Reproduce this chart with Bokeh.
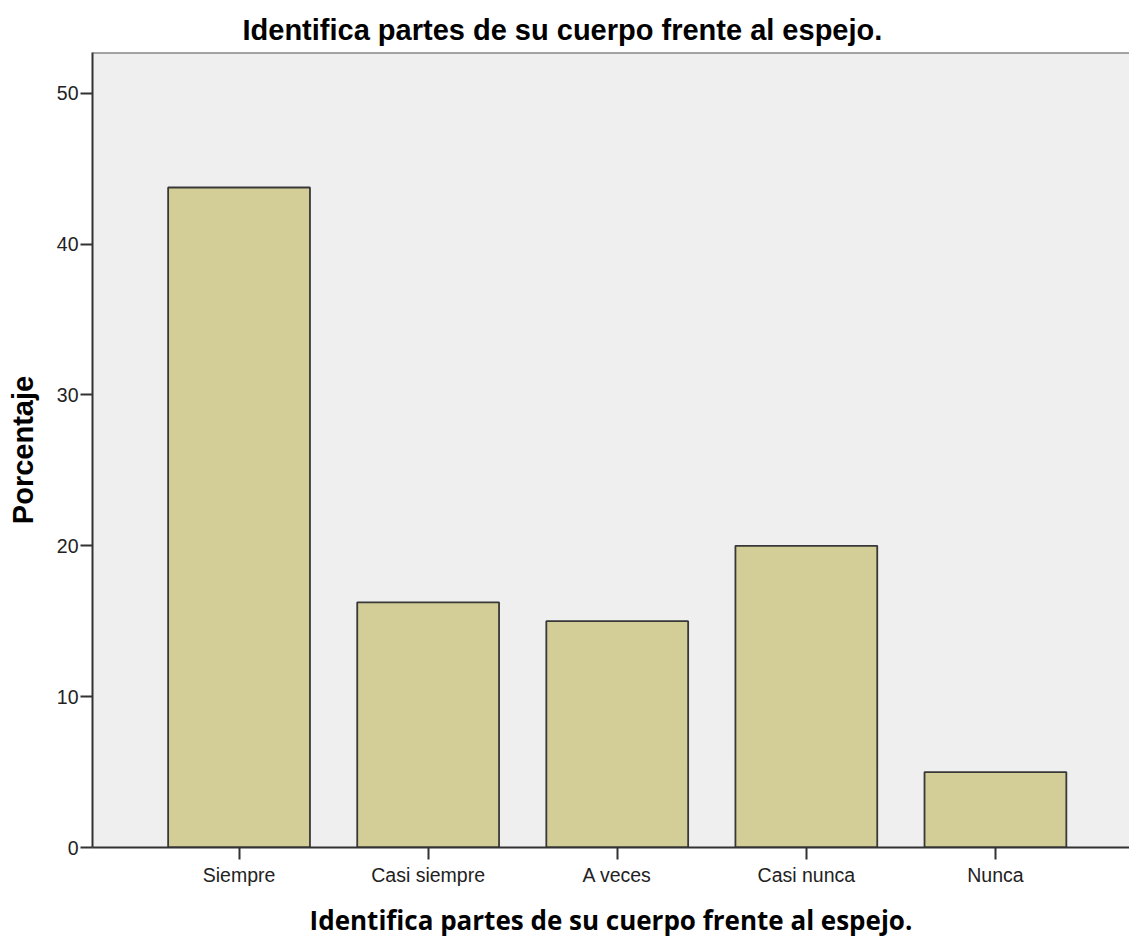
from bokeh.plotting import figure
from bokeh.models import Range1d, FixedTicker, Span
from bokeh.embed import file_html
from bokeh.resources import INLINE

categories = ["Siempre", "Casi siempre", "A veces", "Casi nunca", "Nunca"]
percentages = [43.75, 16.25, 15.0, 20.0, 5.0]
y_ticks = [0, 10, 20, 30, 40, 50]
y_max = 52.7
title_text = "Identifica partes de su cuerpo frente al espejo."

xs = list(range(len(categories)))

p = figure(width=1129, height=940, output_backend="svg", toolbar_location=None,
           x_range=Range1d(-0.775, 4.709), y_range=Range1d(0, y_max),
           min_border_left=92, min_border_right=0, min_border_top=52, min_border_bottom=88)

p.vbar(x=xs, top=percentages, width=0.75, fill_color="#D3CD97",
       line_color="#383838", line_width=1.8)

p.title.text = title_text
p.title.text_font = "Liberation Sans"
p.title.text_font_size = "29px"
p.title.text_font_style = "bold"
p.title.text_color = "#000000"
p.title.align = "left"
p.title.offset = 150
p.title.standoff = 14

p.background_fill_color = "#EFEFEF"
p.border_fill_color = "#FFFFFF"
p.outline_line_color = None
p.add_layout(Span(location=y_max, dimension="width", line_color="#555555", line_width=2))
p.xgrid.grid_line_color = None
p.ygrid.grid_line_color = None

p.xaxis.ticker = FixedTicker(ticks=xs)
p.xaxis.major_label_overrides = {i: c for i, c in zip(xs, categories)}
p.yaxis.ticker = FixedTicker(ticks=y_ticks)

for ax in (p.xaxis[0], p.yaxis[0]):
    ax.axis_line_color = "#333333"
    ax.axis_line_width = 2
    ax.major_tick_line_color = "#333333"
    ax.major_tick_line_width = 2
    ax.major_tick_in = 0
    ax.minor_tick_line_color = None
    ax.major_label_text_font = "Liberation Sans"
    ax.major_label_text_font_size = "19.5px"
    ax.major_label_text_color = "#222222"
    ax.axis_label_text_color = "#000000"
    ax.axis_label_text_font_style = "bold"

p.xaxis.major_tick_out = 12
p.yaxis.major_tick_out = 12
p.xaxis.major_label_standoff = 4
p.yaxis.major_label_standoff = 2

p.xaxis.axis_label = title_text
p.xaxis.axis_label_text_font = "Open Sans"
p.xaxis.axis_label_text_font_size = "26px"
p.xaxis.axis_label_standoff = 13

p.yaxis.axis_label = "Porcentaje"
p.yaxis.axis_label_text_font = "Liberation Sans"
p.yaxis.axis_label_text_font_size = "29px"
p.yaxis.axis_label_standoff = 15

open("out.html", "w").write(file_html(p, INLINE))
